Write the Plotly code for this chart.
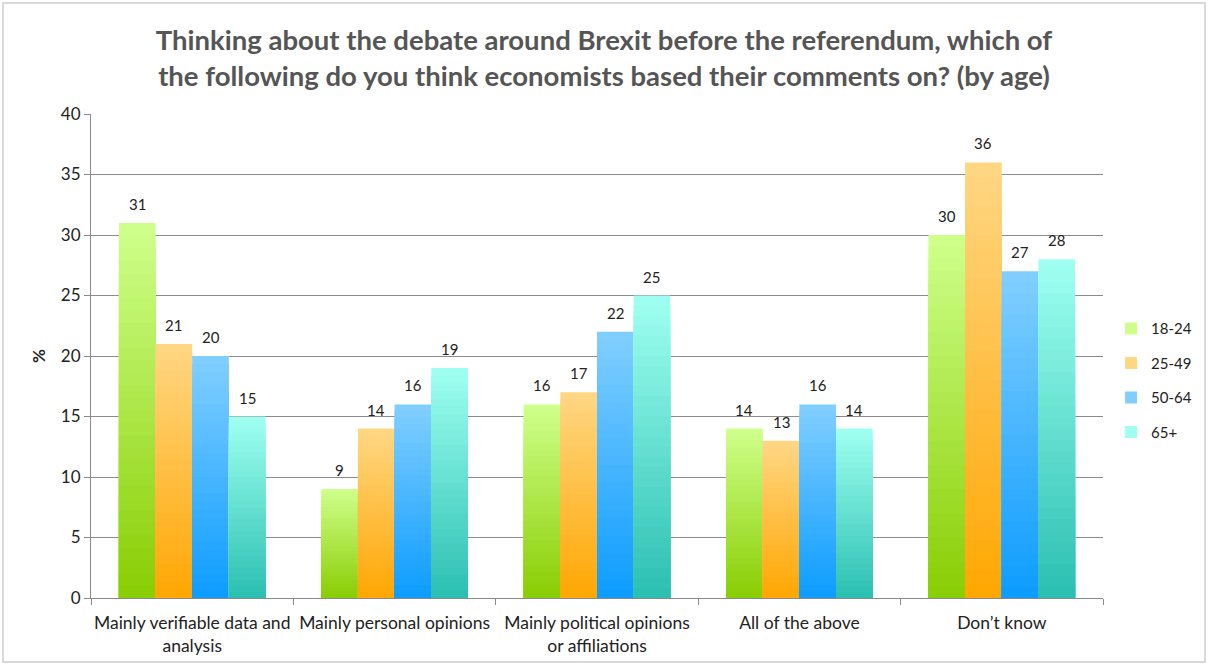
import plotly.graph_objects as go

categories = ["Mainly verifiable data and<br>analysis", "Mainly personal opinions",
              "Mainly political opinions<br>or affiliations", "All of the above", "Don\u2019t know"]
series_names = ["18-24", "25-49", "50-64", "65+"]
v_18_24 = [31, 9, 16, 14, 30]
v_25_49 = [21, 14, 17, 13, 36]
v_50_64 = [20, 16, 22, 16, 27]
v_65_plus = [15, 19, 25, 14, 28]
values = [v_18_24, v_25_49, v_50_64, v_65_plus]

tops = [(206, 255, 138), (255, 214, 130), (128, 206, 255), (158, 255, 240)]
bottoms = [(136, 204, 0), (255, 166, 0), (10, 155, 255), (40, 190, 176)]

N = 30
w = 0.181
fig = go.Figure()
annotations = []
for i, (name, vals) in enumerate(zip(series_names, values)):
    off = -2 * w + i * w
    for k in range(N, 0, -1):
        f = k / N
        c = tuple(int(round(b + (t - b) * f)) for b, t in zip(bottoms[i], tops[i]))
        first = (k == N)
        fig.add_trace(go.Bar(
            x=categories, y=[v * f for v in vals],
            width=w, offset=off,
            marker=dict(color="rgb(%d,%d,%d)" % c, line=dict(width=0)),
            name=name, legendgroup=name,
            showlegend=first,
            hoverinfo="skip",
        ))
    for j, v in enumerate(vals):
        annotations.append(dict(
            x=j + off + w / 2, y=v, xref="x", yref="y", text=str(v),
            showarrow=False, yanchor="bottom", yshift=8,
            font=dict(size=15, color="#222222"),
        ))

fig.update_layout(
    width=1208, height=666,
    barmode="overlay",
    paper_bgcolor="white", plot_bgcolor="white",
    margin=dict(l=91, r=105, t=114, b=68, autoexpand=False),
    font=dict(family="Lato, Noto Sans, sans-serif", size=16, color="#222222"),
    title=dict(
        text="Thinking about the debate around Brexit before the referendum, which of<br>the following do you think economists based their comments on? (by age)",
        x=0.5, xanchor="center", y=0.925, yanchor="middle",
        font=dict(size=27.5, color="#555555", family="Lato, Noto Sans, sans-serif", weight="bold"),
    ),
    legend=dict(x=1.008, y=0.45, xanchor="left", yanchor="middle",
                font=dict(size=15, color="#222222"), tracegroupgap=12,
                itemwidth=30, bgcolor="rgba(0,0,0,0)"),
    showlegend=True,
    xaxis=dict(showline=True, linecolor="#8a8a8a", linewidth=1,
               ticks="outside", tickson="boundaries", ticklen=6, tickcolor="#8a8a8a",
               showgrid=False, tickfont=dict(size=17.5, color="#222222"),
               tickangle=0, ticklabelstandoff=9, range=[-0.5, 4.5]),
    yaxis=dict(range=[0, 40], dtick=5, showline=True, linecolor="#8a8a8a", linewidth=1,
               ticks="outside", ticklen=6, tickcolor="#8a8a8a",
               showgrid=True, gridcolor="#8c8c8c", gridwidth=1,
               tickfont=dict(size=17, color="#222222"),
               title=dict(text="<b>%</b>", font=dict(size=17, color="#222222"), standoff=10),
               zeroline=False),
    annotations=annotations,
    shapes=[dict(type="rect", xref="paper", yref="paper",
                 x0=(3 - 91) / 1012, x1=(1205 - 91) / 1012,
                 y0=(598 - 662) / 484, y1=(598 - 3) / 484,
                 line=dict(color="#d9d9d9", width=2), layer="below")],
)

fig.write_html("out.html", config={"displayModeBar": False},
               post_script="document.body.style.margin='0';document.body.style.padding='0';")
